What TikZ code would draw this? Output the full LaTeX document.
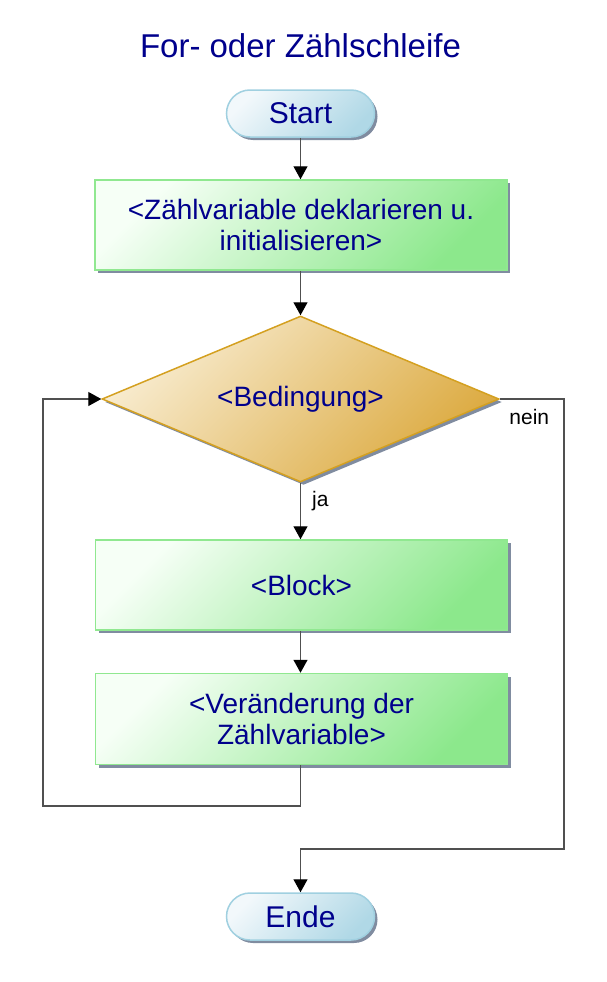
\documentclass[tikz,border=0pt]{standalone}
\usepackage{fontspec}
\setmainfont{Liberation Sans}
\usetikzlibrary{shapes.geometric,shapes.misc,shadows,arrows.meta}
\definecolor{txtblue}{RGB}{0,0,140}
\definecolor{connc}{RGB}{80,80,80}
\definecolor{shadowc}{RGB}{128,140,160}
\definecolor{termA}{RGB}{242,248,251}
\definecolor{termB}{RGB}{176,216,230}
\definecolor{termD}{RGB}{160,208,224}
\definecolor{procA}{RGB}{246,255,246}
\definecolor{procB}{RGB}{140,232,140}
\definecolor{procD}{RGB}{144,232,144}
\definecolor{decA}{RGB}{248,236,208}
\definecolor{decB}{RGB}{220,170,64}
\definecolor{decD}{RGB}{212,160,32}
\tikzset{
  myshadow/.style={drop shadow={shadow xshift=3pt, shadow yshift=-3pt, fill=shadowc, opacity=1}},
  terminal/.style={rounded rectangle, minimum width=152pt, minimum height=47pt, inner sep=2pt,
    draw=termD, line width=1.5pt, top color=termA, bottom color=termB, shading angle=45,
    myshadow, text=txtblue, font=\fontsize{30}{33}\selectfont},
  process/.style={rectangle, minimum width=412pt, minimum height=90pt, inner sep=2pt,
    draw=procD, line width=1.5pt, top color=procA, bottom color=procB, shading angle=45,
    myshadow, text=txtblue, align=center, font=\fontsize{28}{31}\selectfont},
  decision/.style={diamond, aspect=2.4, minimum width=397pt, minimum height=166pt, inner sep=2pt,
    draw=decD, line width=1.5pt, top color=decA, bottom color=decB, shading angle=45,
    myshadow, text=txtblue, font=\fontsize{28}{31}\selectfont},
  conn/.style={draw=connc, line width=1.3pt, -{Triangle[length=13pt,width=14pt,fill=black,color=black]}},
  lbl/.style={text=black, inner sep=0pt, font=\fontsize{21}{24}\selectfont},
  titlestyle/.style={text=txtblue, inner sep=0pt, font=\fontsize{33}{36}\selectfont}
}
\begin{document}
\begin{tikzpicture}[x=1pt,y=-1pt]
\useasboundingbox (0,0) rectangle (607,982);
\node[titlestyle, anchor=base] (title) at (300.5,58) {For- oder Zählschleife};
\node[terminal] (start) at (300.5,113.5) {Start};
\node[process] (init) at (301,225) {<Zählvariable deklarieren u.\\initialisieren>};
\node[decision] (cond) at (300.5,399) {<Bedingung>};
\node[process] (block) at (301.5,585) {<Block>};
\node[process, minimum height=91pt] (inc) at (301.5,719) {<Veränderung der\\Zählvariable>};
\node[terminal] (ende) at (300.5,916.5) {Ende};
\coordinate (loopL) at (43,806);
\coordinate (neinR) at (564,849);
\draw[conn] (start.south) -- (init.north -| start.south);
\draw[conn] (init.south -| cond.north) -- (cond.north);
\draw[conn] (cond.south) -- node[lbl, pos=0.33, anchor=west, xshift=11pt] {ja} (block.north -| cond.south);
\draw[conn] (block.south -| cond.south) -- (inc.north -| cond.south);
\draw[conn] (inc.south -| cond.south) |- (loopL) |- (cond.west);
\draw[conn] (cond.east) -- node[lbl, at start, anchor=north west, xshift=9pt, yshift=-10pt] {nein} (cond.east -| neinR) -- (neinR) -| (ende.north);
\end{tikzpicture}
\end{document}
